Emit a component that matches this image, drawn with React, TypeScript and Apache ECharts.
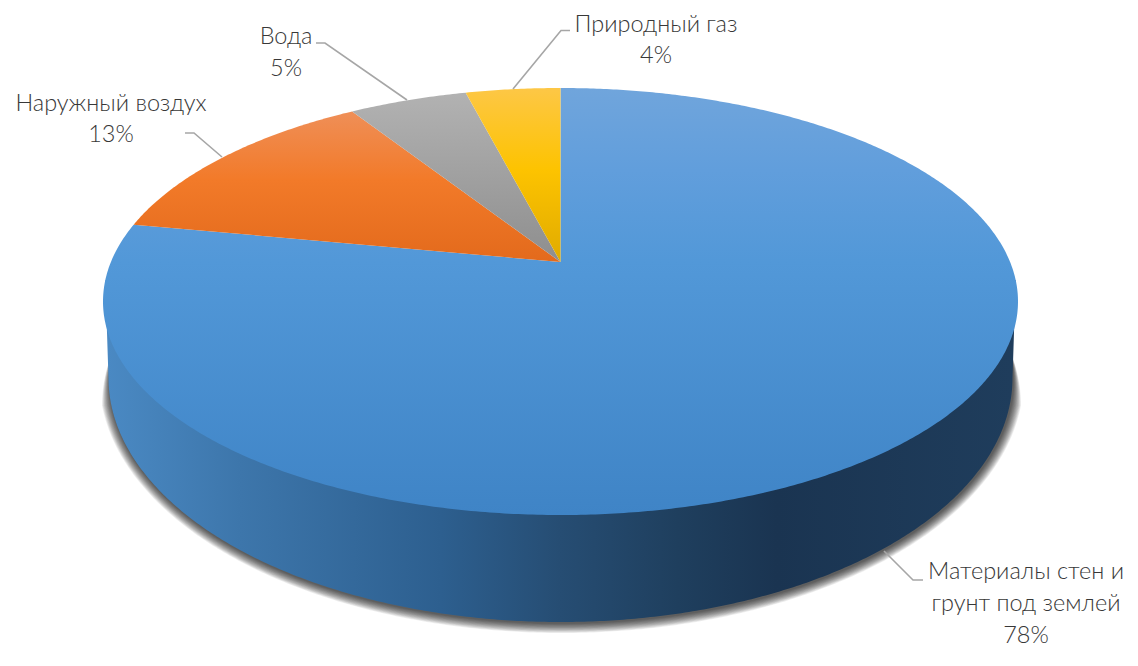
import React, { useEffect, useRef } from "react";
import * as echarts from "echarts";

const categories = ["Материалы стен и\nгрунт под землей", "Наружный воздух", "Вода", "Природный газ"];
const values = [78, 13, 5, 4];

// Perspective of the disc's top face
const CX = 560.5, AY = 262, RA = 206.2, RB = 449.6, K = 0.185;
// Lower rim
const BOT_CY = 378, BOT_RX = 452, BOT_RY = 244;
// Soft shadow under the lower rim
const SHADOW_LAYERS = 14, SHADOW_REACH = 10, SHADOW_ALPHA = 0.068;

const topStops = [
  [[88, "#70a5dc"], [170, "#619edc"], [262, "#5298d8"], [515, "#3f84c6"]],
  [[111, "#ef8f58"], [180, "#f27a29"], [262, "#e36a1c"]],
  [[93, "#b2b2b2"], [262, "#8e8e8e"]],
  [[88, "#fdc746"], [170, "#fdc300"], [262, "#e0ab00"]],
];

const labelLayout = [
  { x: 1026, y: 602, line: [[923, 580], [913, 580], [884, 551]] },
  { x: 111, y: 117.5, line: [[185, 133], [194, 133], [222, 157]] },
  { x: 286, y: 51, line: [[316, 43], [325, 43], [407, 100]] },
  { x: 656, y: 38.5, line: [[570, 30.5], [561, 30.5], [513, 89]] },
];

const rad = (d: number) => (d * Math.PI) / 180;
const total = values.reduce((a, b) => a + b, 0);
const starts: number[] = [];
values.reduce((acc, v, i) => {
  starts[i] = (acc / total) * 360;
  return acc + v;
}, 0);

function topPoint(deg: number): number[] {
  const u = Math.sin(rad(deg)), v = Math.cos(rad(deg));
  const d = 1 + K * v;
  return [CX + (RB * u) / d, AY - (RA * v) / d];
}
function botPoint(deg: number): number[] {
  return [CX + BOT_RX * Math.sin(rad(deg)), BOT_CY - BOT_RY * Math.cos(rad(deg))];
}
function shadowPoint(deg: number, reach: number): number[] {
  const edge = Math.min(deg - 84, 276 - deg);
  const r = reach * Math.max(0, Math.min(1, edge / 12));
  return [
    CX + 1 + (BOT_RX + r) * Math.sin(rad(deg)),
    BOT_CY + 1 - (BOT_RY + r) * Math.cos(rad(deg)),
  ];
}
function sweep(a: number, b: number, f: (d: number) => number[]): number[][] {
  const n = Math.max(2, Math.ceil(Math.abs(b - a) * 2));
  const pts: number[][] = [];
  for (let i = 0; i <= n; i++) pts.push(f(a + ((b - a) * i) / n));
  return pts;
}
function vGrad(stops: (number | string)[][]) {
  const y0 = stops[0][0] as number, y1 = stops[stops.length - 1][0] as number;
  return new echarts.graphic.LinearGradient(
    0, y0, 0, y1,
    stops.map((s) => ({ offset: ((s[0] as number) - y0) / (y1 - y0), color: s[1] as string })),
    true
  );
}

const sideFill = () =>
  new echarts.graphic.LinearGradient(
    108, 0, 1012, 0,
    [
      { offset: 0, color: "#4a89c3" },
      { offset: 0.146, color: "#3d76ab" },
      { offset: 0.368, color: "#2d5f8f" },
      { offset: 0.5, color: "#264d73" },
      { offset: 0.63, color: "#1f3f5e" },
      { offset: 0.74, color: "#1a3451" },
      { offset: 1, color: "#1f3d5c" },
    ],
    true
  );

function renderSide(params: any) {
  const i = params.dataIndex;
  const a = Math.max(starts[i], 90);
  const b = Math.min(starts[i] + (values[i] / total) * 360, 270);
  if (a >= b) return { type: "group", children: [] };
  const rim = sweep(a, b, botPoint);
  const shadow = [];
  for (let n = SHADOW_LAYERS; n >= 1; n--) {
    const reach = (SHADOW_REACH * n) / SHADOW_LAYERS;
    shadow.push({
      type: "polygon",
      shape: { points: sweep(84, 276, (d) => shadowPoint(d, reach)) },
      style: { fill: `rgba(0,0,0,${SHADOW_ALPHA})` },
    });
  }
  return {
    type: "group",
    children: [
      ...shadow,
      {
        type: "polygon",
        shape: { points: [...rim, topPoint(265), topPoint(95)] },
        style: { fill: sideFill() },
      },
    ],
  };
}

function renderTop(params: any) {
  const i = params.dataIndex;
  const s = starts[i];
  const e = s + (values[i] / total) * 360;
  return {
    type: "polygon",
    shape: { points: [[CX, AY], ...sweep(s, e, topPoint)] },
    style: { fill: vGrad(topStops[i]) },
  };
}

function renderLabel(params: any) {
  const i = params.dataIndex;
  const l = labelLayout[i];
  return {
    type: "group",
    children: [
      {
        type: "polyline",
        shape: { points: l.line },
        style: { stroke: "#a6a6a6", lineWidth: 1.6, fill: "none" },
      },
      {
        type: "text",
        x: l.x,
        y: l.y,
        style: {
          text: `${categories[i]}\n${values[i]}%`,
          fill: "#383838",
          font: "300 23.5px Lato, 'Open Sans', 'Noto Sans', sans-serif",
          lineHeight: 31.6,
          align: "center",
          verticalAlign: "middle",
        },
      },
    ],
  };
}

export default function App() {
  const ref = useRef<HTMLDivElement>(null);
  useEffect(() => {
    const chart = echarts.init(ref.current!, undefined, { renderer: "svg" });
    const base = { type: "custom", coordinateSystem: "none", silent: true, clip: false, data: values };
    chart.setOption({
      animation: false,
      backgroundColor: "#fff",
      series: [
        { ...base, name: "side", z: 1, renderItem: renderSide },
        { ...base, name: "top", z: 2, renderItem: renderTop },
        { ...base, name: "labels", z: 3, renderItem: renderLabel },
      ],
    });
    return () => chart.dispose();
  }, []);
  return <div ref={ref} style={{ position: "fixed", left: 0, top: 0, width: 1138, height: 666 }} />;
}
